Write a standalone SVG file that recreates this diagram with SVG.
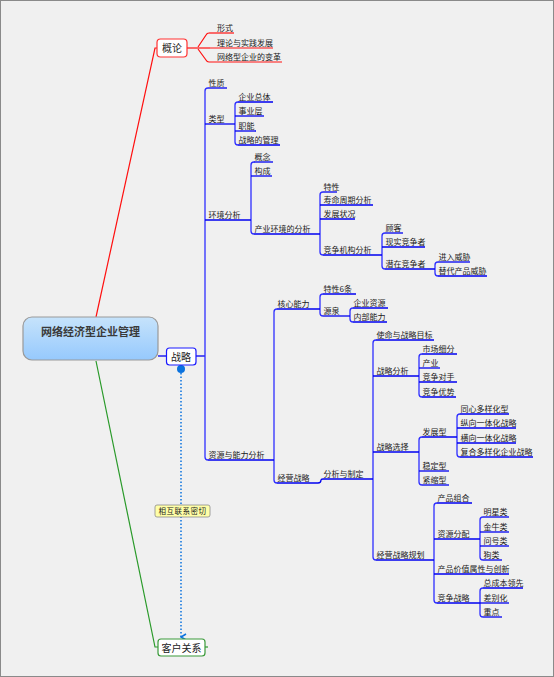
<svg xmlns="http://www.w3.org/2000/svg" width="554" height="677" viewBox="0 0 554 677">
<defs>
<linearGradient id="cg" x1="0" y1="0" x2="0" y2="1">
<stop offset="0" stop-color="#c6e3fb"/>
<stop offset="1" stop-color="#96c9fd"/>
</linearGradient>
<marker id="ah" viewBox="0 0 8 8" refX="4" refY="7" markerWidth="8" markerHeight="8" orient="auto-start-reverse" markerUnits="userSpaceOnUse">
<path d="M1,2 L4,7 L7,2" fill="none" stroke="#0a72de" stroke-width="1.6"/>
</marker>
<style>
.t{font-family:"Noto Sans CJK SC","Noto Sans",sans-serif;font-size:8px;fill:#1a1a1a}
.n{font-family:"Noto Sans CJK SC","Noto Sans",sans-serif;font-size:10px;fill:#222}
.u{stroke:#0000f0;stroke-width:1.3;fill:none}
.v{stroke:#2e2eff;stroke-width:1.3;fill:none}
.r{stroke:#ff1010;stroke-width:1.2;fill:none}
.g{stroke:#2a9a2a;stroke-width:1.2;fill:none}
</style>
</defs>
<rect x="0" y="0" width="554" height="677" fill="#f0f0f0"/>
<rect x="0.5" y="0.5" width="553" height="676" fill="none" stroke="#8a8a8a"/>

<g id="connectors">
<path class="r" d="M96,317 L155,48 H157"/>
<path class="g" d="M96,361 L155,647 H158"/>
<path class="g" d="M205,647 H208"/>
<path class="r" d="M187,48 H198"/>
<path class="r" d="M198,47 L206,35 Q207,33 209,33"/>
<path class="r" d="M198,48 H210" stroke="#ff5a5a"/>
<path class="r" d="M198,49 L206,60 Q207,62 209,62" stroke="#ff6a6a"/>
<path class="u" d="M158,356 H166"/>
<path class="u" d="M196,356 H205"/>
<path class="v" d="M208,88 Q205,88 205,91 V457 Q205,460 208,460" stroke="#4a4aff" stroke-width="1.6"/>
<path class="v" d="M238,102 Q235,102 235,105 V142 Q235,145 238,145"/>
<path class="v" d="M254,162 Q251,162 251,165 V231 Q251,234 254,234"/>
<path class="v" d="M323,192 Q320,192 320,195 V252 Q320,255 323,255"/>
<path class="v" d="M385,233 Q382,233 382,236 V266 Q382,269 385,269"/>
<path class="v" d="M438,262 Q435,262 435,265 V273 Q435,276 438,276"/>
<path class="v" d="M277,309 Q274,309 274,312 V480 Q274,483 277,483" stroke="#4a4aff"/>
<path class="v" d="M323,294 Q320,294 320,297 V313 Q320,316 323,316"/>
<path class="v" d="M353,308 Q350,308 350,311 V319 Q350,322 353,322"/>
<path class="u" d="M318,483 Q321,483 321,480 Q321,479 323,479"/>
<path class="v" d="M376,340 Q373,340 373,343 V557 Q373,560 376,560" stroke="#4a4aff" stroke-width="1.6"/>
<path class="v" d="M422,354 Q419,354 419,357 V394 Q419,397 422,397"/>
<path class="v" d="M422,437 Q419,437 419,440 V482 Q419,485 422,485"/>
<path class="v" d="M460,414 Q457,414 457,417 V454 Q457,457 460,457"/>
<path class="v" d="M437,503 Q434,503 434,506 V600 Q434,603 437,603"/>
<path class="v" d="M483,517 Q480,517 480,520 V557 Q480,560 483,560"/>
<path class="v" d="M483,588 Q480,588 480,591 V614 Q480,617 483,617"/>
<circle cx="181" cy="369" r="4" fill="#0a72de"/>
<path d="M181,373 V637" stroke="#0a72de" stroke-width="1.5" stroke-dasharray="1.5 2" fill="none" marker-end="url(#ah)"/>
<g id="link-label">
<rect x="155" y="505" width="55" height="12" rx="2" fill="#ffffa8" stroke="#8a8a8a" stroke-width="0.8"/>
<text x="182.5" y="514" text-anchor="middle" font-family="Noto Sans CJK SC,sans-serif" font-size="7.5" letter-spacing="0.5" fill="#222">相互联系密切</text>
</g>
</g>

<g id="root">
<rect x="23" y="317" width="135" height="43" rx="9" fill="url(#cg)" stroke="#999" stroke-width="1.2"/>
<text x="90.5" y="336" text-anchor="middle" font-family="Noto Sans CJK SC,sans-serif" font-size="11" font-weight="bold" fill="#3a3a3a">网络经济型企业管理</text>
</g>
<g id="gailun">
<rect x="157" y="39" width="30" height="18" rx="3.5" fill="#fff" stroke="#ff3030" stroke-width="1.2"/>
<text class="n" x="172" y="52" text-anchor="middle">概论</text>
</g>
<g id="zhanlue">
<rect x="166.5" y="348" width="29.5" height="17" rx="3" fill="#fff" stroke="#1a1aff" stroke-width="1.2"/>
<text class="n" x="181" y="360.5" text-anchor="middle">战略</text>
</g>
<g id="kehu">
<rect x="158" y="639" width="47" height="17" rx="3" fill="#fff" stroke="#3a9a3a" stroke-width="1.2"/>
<text class="n" x="181.5" y="651.5" text-anchor="middle">客户关系</text>
</g>

<g id="gl-1"><text class="t" x="217" y="31">形式</text><path class="r" d="M209,33 H234"/></g>
<g id="gl-2"><text class="t" x="217" y="46">理论与实践发展</text><path class="r" d="M210,48 H273"/></g>
<g id="gl-3"><text class="t" x="217" y="60">网络型企业的变革</text><path class="r" d="M209,62 H282"/></g>

<g id="n-xingzhi"><text class="t" x="208.5" y="86">性质</text><path class="u" d="M208,88 H227"/></g>
<g id="n-leixing"><text class="t" x="208.5" y="122">类型</text><path class="u" d="M205,124 H235"/></g>
<g id="n-huanjing"><text class="t" x="208.5" y="218">环境分析</text><path class="u" d="M205,220 H251"/></g>
<g id="n-ziyuan"><text class="t" x="208.5" y="458">资源与能力分析</text><path class="u" d="M208,460 H274"/></g>

<g id="n-qyzt"><text class="t" x="238.5" y="100">企业总体</text><path class="u" d="M238,102 H273"/></g>
<g id="n-syc"><text class="t" x="238.5" y="114">事业层</text><path class="u" d="M235,116 H264"/></g>
<g id="n-zn"><text class="t" x="238.5" y="129">职能</text><path class="u" d="M235,131 H256"/></g>
<g id="n-zldgl"><text class="t" x="238.5" y="143">战略的管理</text><path class="u" d="M238,145 H280"/></g>

<g id="n-gn"><text class="t" x="254.5" y="160">概念</text><path class="u" d="M254,162 H273"/></g>
<g id="n-gc"><text class="t" x="254.5" y="174">构成</text><path class="u" d="M251,176 H272"/></g>
<g id="n-cyhj"><text class="t" x="254.5" y="232">产业环境的分析</text><path class="u" d="M254,234 H320"/></g>

<g id="n-tx"><text class="t" x="323.5" y="190">特性</text><path class="u" d="M323,192 H337"/></g>
<g id="n-smzq"><text class="t" x="323.5" y="203">寿命周期分析</text><path class="u" d="M320,205 H373"/></g>
<g id="n-fzzk"><text class="t" x="323.5" y="217">发展状况</text><path class="u" d="M320,219 H355"/></g>
<g id="n-jzjg"><text class="t" x="323.5" y="253">竞争机构分析</text><path class="u" d="M323,255 H382"/></g>

<g id="n-gk"><text class="t" x="385.5" y="231">顾客</text><path class="u" d="M385,233 H403"/></g>
<g id="n-xsjz"><text class="t" x="385.5" y="245">现实竞争者</text><path class="u" d="M382,247 H425"/></g>
<g id="n-qzjz"><text class="t" x="385.5" y="267">潜在竞争者</text><path class="u" d="M385,269 H435"/></g>

<g id="n-jrwx"><text class="t" x="438.5" y="260">进入威胁</text><path class="u" d="M438,262 H470"/></g>
<g id="n-tdcp"><text class="t" x="438.5" y="274">替代产品威胁</text><path class="u" d="M438,276 H487"/></g>

<g id="n-hxnl"><text class="t" x="277.5" y="307">核心能力</text><path class="u" d="M277,309 H320"/></g>
<g id="n-tx6"><text class="t" x="323.5" y="292">特性6条</text><path class="u" d="M323,294 H356"/></g>
<g id="n-yq"><text class="t" x="323.5" y="314">源泉</text><path class="u" d="M323,316 H350"/></g>
<g id="n-qyzy"><text class="t" x="353.5" y="306">企业资源</text><path class="u" d="M353,308 H388"/></g>
<g id="n-nbnl"><text class="t" x="353.5" y="320">内部能力</text><path class="u" d="M353,322 H387"/></g>

<g id="n-jyzl"><text class="t" x="277.5" y="481">经营战略</text><path class="u" d="M277,483 H318"/></g>
<g id="n-fxzd"><text class="t" x="323.5" y="477">分析与制定</text><path class="u" d="M323,479 H373"/></g>

<g id="n-smmb"><text class="t" x="376.5" y="338">使命与战略目标</text><path class="u" d="M376,340 H434"/></g>
<g id="n-zlfx"><text class="t" x="376.5" y="374">战略分析</text><path class="u" d="M373,376 H419"/></g>
<g id="n-zlxz"><text class="t" x="376.5" y="450">战略选择</text><path class="u" d="M373,452 H419"/></g>
<g id="n-jyzlgh"><text class="t" x="376.5" y="558">经营战略规划</text><path class="u" d="M376,560 H434"/></g>

<g id="n-scxf"><text class="t" x="422.5" y="352">市场细分</text><path class="u" d="M422,354 H457"/></g>
<g id="n-cy"><text class="t" x="422.5" y="366">产业</text><path class="u" d="M419,368 H440"/></g>
<g id="n-jzds"><text class="t" x="422.5" y="380">竞争对手</text><path class="u" d="M419,382 H457"/></g>
<g id="n-jzys"><text class="t" x="422.5" y="395">竞争优势</text><path class="u" d="M422,397 H456"/></g>

<g id="n-fzx"><text class="t" x="422.5" y="435">发展型</text><path class="u" d="M422,437 H457"/></g>
<g id="n-wdx"><text class="t" x="422.5" y="469">稳定型</text><path class="u" d="M419,471 H449"/></g>
<g id="n-jsx"><text class="t" x="422.5" y="483">紧缩型</text><path class="u" d="M422,485 H449"/></g>

<g id="n-txdy"><text class="t" x="460.5" y="412">同心多样化型</text><path class="u" d="M460,414 H509"/></g>
<g id="n-zxyt"><text class="t" x="460.5" y="426">纵向一体化战略</text><path class="u" d="M457,428 H516"/></g>
<g id="n-hxyt"><text class="t" x="460.5" y="441">横向一体化战略</text><path class="u" d="M457,443 H516"/></g>
<g id="n-fhdy"><text class="t" x="460.5" y="455">复合多样化企业战略</text><path class="u" d="M460,457 H533"/></g>

<g id="n-cpzh"><text class="t" x="437.5" y="501">产品组合</text><path class="u" d="M437,503 H472"/></g>
<g id="n-zyfp"><text class="t" x="437.5" y="537">资源分配</text><path class="u" d="M434,539 H480"/></g>
<g id="n-cpjz"><text class="t" x="437.5" y="572">产品价值属性与创新</text><path class="u" d="M434,574 H509"/></g>
<g id="n-jzzl"><text class="t" x="437.5" y="601">竞争战略</text><path class="u" d="M437,603 H480"/></g>

<g id="n-mxl"><text class="t" x="483.5" y="515">明星类</text><path class="u" d="M483,517 H509"/></g>
<g id="n-jnl"><text class="t" x="483.5" y="530">金牛类</text><path class="u" d="M480,532 H509"/></g>
<g id="n-whl"><text class="t" x="483.5" y="544">问号类</text><path class="u" d="M480,546 H509"/></g>
<g id="n-gl"><text class="t" x="483.5" y="558">狗类</text><path class="u" d="M483,560 H502"/></g>

<g id="n-zcb"><text class="t" x="483.5" y="586">总成本领先</text><path class="u" d="M483,588 H523"/></g>
<g id="n-cbh"><text class="t" x="483.5" y="601">差别化</text><path class="u" d="M480,603 H509"/></g>
<g id="n-zd"><text class="t" x="483.5" y="615">重点</text><path class="u" d="M483,617 H502"/></g>
</svg>
